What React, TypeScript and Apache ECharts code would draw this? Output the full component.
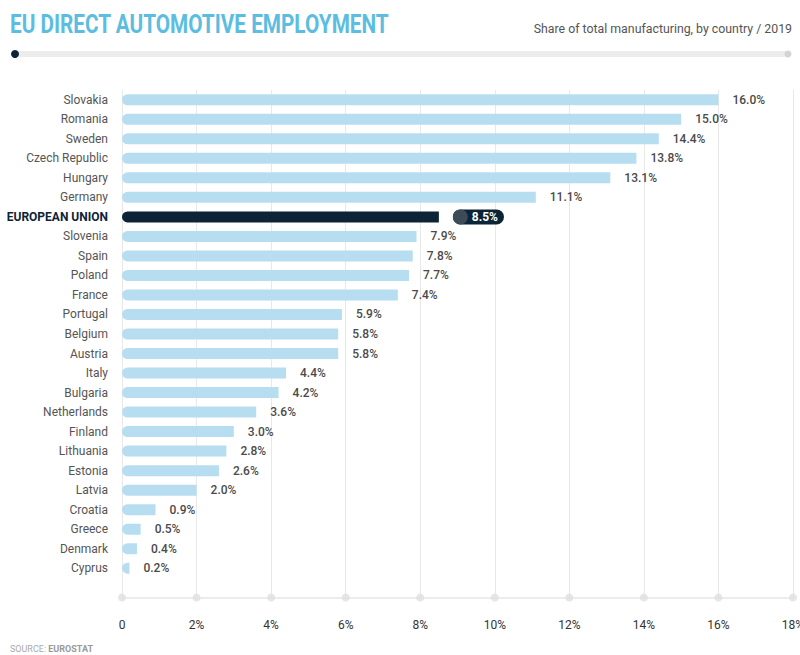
import React, { useEffect, useRef } from "react";
import * as echarts from "echarts";

const categories = [
  "Slovakia", "Romania", "Sweden", "Czech Republic", "Hungary", "Germany",
  "EUROPEAN UNION", "Slovenia", "Spain", "Poland", "France", "Portugal",
  "Belgium", "Austria", "Italy", "Bulgaria", "Netherlands", "Finland",
  "Lithuania", "Estonia", "Latvia", "Croatia", "Greece", "Denmark", "Cyprus",
];
const values = [
  16.0, 15.0, 14.4, 13.8, 13.1, 11.1, 8.5, 7.9, 7.8, 7.7, 7.4, 5.9, 5.8, 5.8,
  4.4, 4.2, 3.6, 3.0, 2.8, 2.6, 2.0, 0.9, 0.5, 0.4, 0.2,
];
const highlight = "EUROPEAN UNION";
const xTicks = [0, 2, 4, 6, 8, 10, 12, 14, 16, 18];

const FONT = "Roboto, 'Noto Sans', sans-serif";

export default function App() {
  const ref = useRef<HTMLDivElement>(null);
  useEffect(() => {
    if (!ref.current) return;
    const chart = echarts.init(ref.current, null, { renderer: "svg" });
    const cats = [...categories, ""];
    const barData = values.map((v, i) => {
      const hi = categories[i] === highlight;
      return {
        value: v,
        itemStyle: { color: hi ? "#0c2436" : "#b7def0", borderRadius: [6, 0, 0, 6] },
        label: hi
          ? {
              show: true,
              position: "right",
              distance: 14,
              formatter: (p: any) => `{dot|}{v|${p.value.toFixed(1)}%}`,
              backgroundColor: "#0c2436",
              borderRadius: 8,
              padding: [0, 6, 0, 0],
              rich: {
                dot: {
                  width: 15,
                  height: 15,
                  borderRadius: 8,
                  backgroundColor: "#3d4b59",
                },
                v: {
                  color: "#ffffff",
                  fontWeight: "bold",
                  fontSize: 12,
                  fontFamily: FONT,
                  padding: [0, 0, 0, 4],
                },
              },
            }
          : undefined,
      };
    });
    chart.setOption({
      animation: false,
      backgroundColor: "#ffffff",
      grid: {
        left: 122,
        right: 7,
        top: 90,
        bottom: 57.5,
        containLabel: false,
        outerBoundsMode: "none",
      },
      xAxis: [
        {
          type: "value",
          min: 0,
          max: 18,
          interval: 2,
          axisLine: { show: true, lineStyle: { color: "#ececec", width: 2 } },
          axisTick: { show: false },
          splitLine: { show: true, lineStyle: { color: "#e8e8e8", width: 1 } },
          axisLabel: {
            margin: 21,
            color: "#333",
            fontSize: 12,
            fontFamily: FONT,
            formatter: (v: number) => (v === 0 ? "0" : `${v}%`),
          },
        },
      ],
      yAxis: [
        {
          type: "category",
          data: cats,
          inverse: true,
          axisLine: { show: false },
          axisTick: { show: false },
          splitLine: { show: false },
          axisLabel: {
            margin: 14,
            fontSize: 12,
            fontFamily: FONT,
            color: "#555",
            formatter: (v: string) => (v === highlight ? `{hi|${v}}` : v),
            rich: {
              hi: { fontWeight: "bold", color: "#0c2436", fontSize: 12, fontFamily: FONT },
            },
          },
        },
        { type: "value", min: 0, max: 1, show: false },
      ],
      series: [
        {
          type: "bar",
          yAxisIndex: 0,
          data: barData,
          barWidth: 11,
          label: {
            show: true,
            position: "right",
            distance: 14,
            color: "#4a4a4a",
            fontSize: 12,
            fontWeight: 500,
            fontFamily: FONT,
            formatter: (p: any) => `${p.value.toFixed(1)}%`,
          },
        },
        {
          type: "scatter",
          yAxisIndex: 1,
          data: xTicks.map((t) => [t, 0]),
          symbol: "circle",
          symbolSize: 8,
          clip: false,
          itemStyle: { color: "#e0e0e0" },
          z: 5,
        },
      ],
      graphic: [
        {
          type: "text",
          x: 10,
          y: 12,
          scaleX: 0.83,
          style: {
            text: "EU DIRECT AUTOMOTIVE EMPLOYMENT",
            fill: "#5bbde0",
            font: `bold 25px ${FONT}`,
          },
        },
        {
          type: "text",
          x: 792,
          y: 22,
          scaleX: 0.95,
          style: {
            text: "Share of total manufacturing, by country / 2019",
            fill: "#555",
            font: `13px ${FONT}`,
            align: "right",
          },
        },
        {
          type: "rect",
          shape: { x: 14, y: 51, width: 777, height: 6, r: 3 },
          style: { fill: "#ececec" },
        },
        {
          type: "circle",
          shape: { cx: 15, cy: 54, r: 4 },
          style: { fill: "#0c2436" },
        },
        {
          type: "circle",
          shape: { cx: 788, cy: 54, r: 3.5 },
          style: { fill: "#d4d4d4" },
        },
        {
          type: "text",
          x: 10,
          y: 644,
          style: {
            rich: {
              a: { fill: "#aaa", font: `9px ${FONT}` },
              b: { fill: "#999", font: `bold 9px ${FONT}` },
            },
            text: "{a|SOURCE: }{b|EUROSTAT}",
          },
        },
      ],
    });
    return () => chart.dispose();
  }, []);
  return (
    <div
      ref={ref}
      style={{ position: "absolute", left: 0, top: 0, width: 800, height: 655 }}
    />
  );
}
